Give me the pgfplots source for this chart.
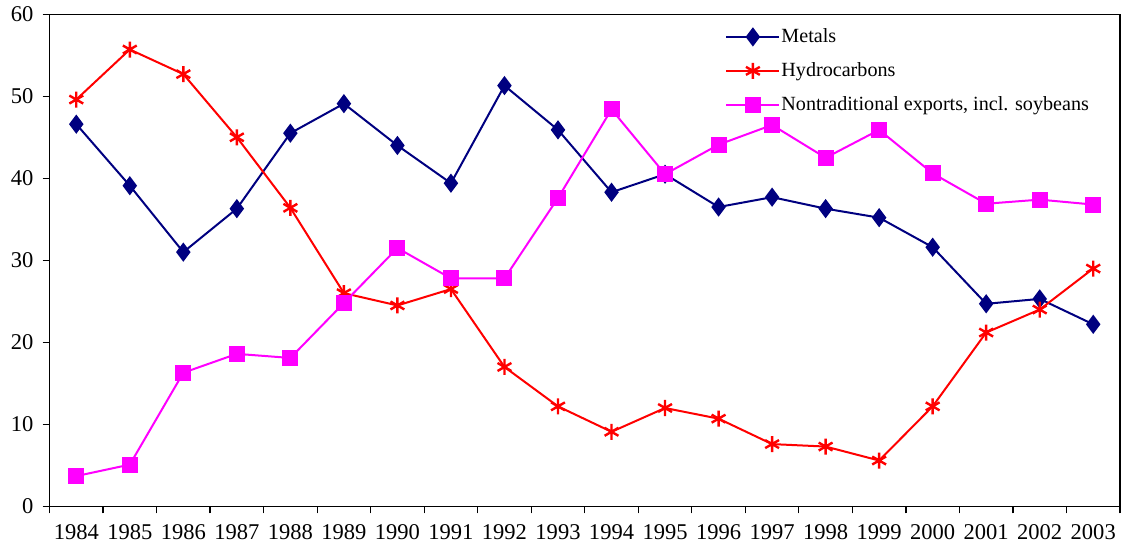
\documentclass[border=0pt]{standalone}
\usepackage{fontspec}
\setmainfont{Liberation Serif}
\usepackage{pgfplots}
\pgfplotsset{compat=1.18}
\usepackage{xcolor}
\definecolor{Metal}{RGB}{0,0,128}
\definecolor{Hydro}{RGB}{255,0,0}
\definecolor{NonTr}{RGB}{255,0,255}

% columns: index, metals, hydrocarbons, nontraditional
\pgfplotstableread{
x  met   hyd   non
0  46.6  49.6  3.7
1  39.1  55.7  5.1
2  31.0  52.7  16.3
3  36.3  45.0  18.6
4  45.5  36.4  18.1
5  49.1  26.0  24.8
6  44.0  24.5  31.5
7  39.4  26.5  27.8
8  51.3  17.0  27.8
9  45.9  12.2  37.6
10 38.3  9.1   48.4
11 40.5  12.0  40.5
12 36.5  10.7  44.1
13 37.7  7.6   46.5
14 36.3  7.3   42.5
15 35.2  5.6   45.9
16 31.6  12.2  40.6
17 24.7  21.2  36.9
18 25.3  24.0  37.4
19 22.2  29.0  36.8
}\datatab

\begin{document}
\begin{tikzpicture}
\begin{axis}[
  name=ax,
  scale only axis,
  width=535bp, height=246bp,
  xmin=-0.5, xmax=19.5, ymin=0, ymax=60,
  ytick={0,10,...,60},
  xtick={0,...,19},
  xticklabels={1984,1985,1986,1987,1988,1989,1990,1991,1992,1993,1994,1995,1996,1997,1998,1999,2000,2001,2002,2003},
  minor xtick={-0.5,0.5,...,19.5},
  tick pos=left,
  x tick style={draw=none},
  minor x tick style={draw=black, line width=0.6bp},
  y tick style={draw=black, line width=0.6bp},
  major tick length=3.5bp, minor tick length=3.5bp,
  tick align=outside,
  axis line style={line width=0.6bp},
  /pgf/number format/assume math mode=true,
  ticklabel style={font=\fontsize{11.3}{13}\selectfont},
  xticklabel style={yshift=-2bp},
  yticklabel style={xshift=-1bp},
  legend style={draw=none, fill=none, at={(0.631,0.98)}, anchor=north west,
    font=\fontsize{10.1}{12}\selectfont, row sep=4.5bp, inner sep=0pt,
    nodes={inner xsep=0.5bp}},
  legend cell align=left,
  legend image code/.code={
    \draw[mark repeat=2, mark phase=2] plot coordinates {(0bp,0bp) (13.25bp,0bp) (26.5bp,0bp)};
  },
]
\addplot[Metal, line width=1bp, mark=diamond*, mark size=4bp, mark options={solid}] table[x=x, y=met]{\datatab};
\addlegendentry{Metals}
\addplot[Hydro, line width=1bp, mark=asterisk, mark size=4bp, mark options={solid, line width=1.2bp}] table[x=x, y=hyd]{\datatab};
\addlegendentry{Hydrocarbons}
\addplot[NonTr, line width=1bp, mark=square*, mark size=3.5bp, mark options={solid}] table[x=x, y=non]{\datatab};
\addlegendentry{Nontraditional exports, incl. soybeans}
\end{axis}
\useasboundingbox ([xshift=-24.75bp,yshift=-24bp]ax.south west) rectangle ([xshift=5.5bp,yshift=7bp]ax.north east);
\end{tikzpicture}
\end{document}
